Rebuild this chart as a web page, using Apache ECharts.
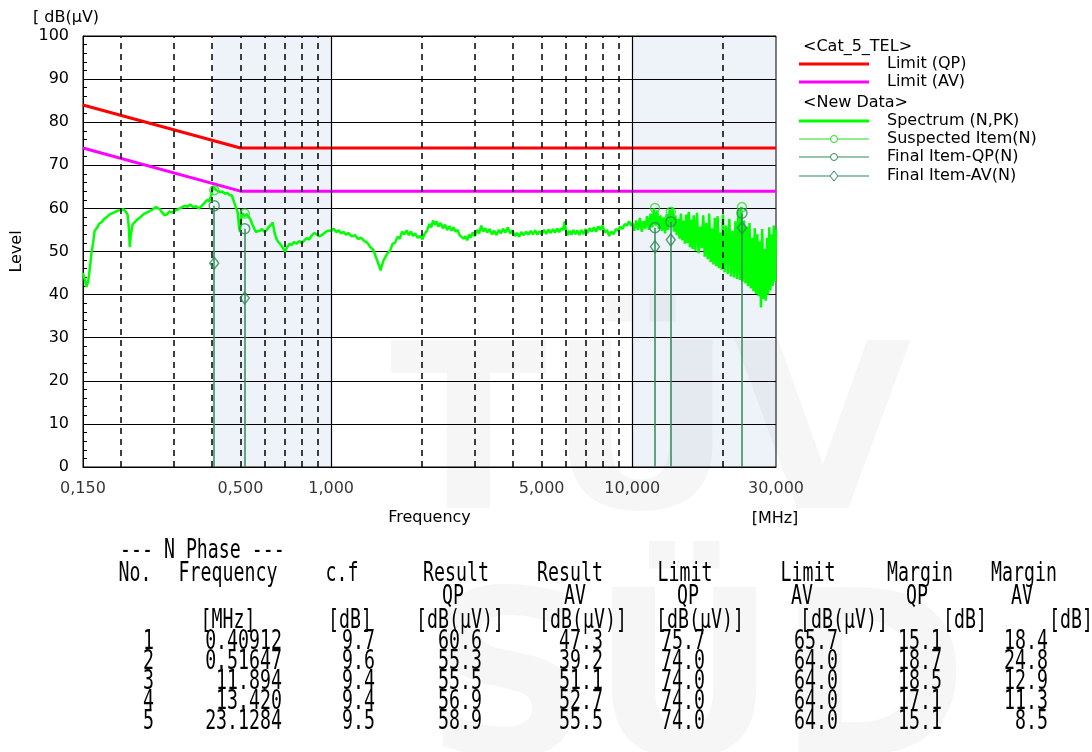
<!DOCTYPE html>
<html><head><meta charset="utf-8">
<script src="https://cdn.jsdelivr.net/npm/echarts@6/dist/echarts.min.js"></script>
<style>html,body{margin:0;padding:0;background:#fff}#c{width:1092px;height:752px}</style>
</head><body><div id="c"></div>
<script>
// ---------- data ----------
const xTickVals = [0.15, 0.5, 1, 5, 10, 30];
const xTickLabels = ['0,150', '0,500', '1,000', '5,000', '10,000', '30,000'];
const gridSolidX = [1, 10];
const gridDashedX = [0.2, 0.3, 0.4, 0.5, 0.6, 0.7, 0.8, 0.9, 2, 3, 4, 5, 6, 7, 8, 9, 20];

const limitFreq = [0.15, 0.5, 30];
const limitQPLevel = [84, 74, 74];
const limitAVLevel = [74, 64, 64];

// Spectrum (N,PK): [MHz, dB(uV)]
const spectrumLow = [
 [0.150,45.0],[0.152,43.5],[0.154,41.8],[0.156,43.0],[0.158,46.0],[0.160,49.5],[0.162,52.0],[0.164,54.8],[0.167,55.5],[0.170,56.5],
 [0.173,56.8],[0.176,57.5],[0.180,58.0],[0.184,58.6],[0.188,58.9],[0.192,59.2],[0.196,59.5],[0.200,59.6],[0.204,59.8],[0.208,59.3],
 [0.211,58.5],[0.213,55.5],[0.2145,51.0],[0.216,53.5],[0.219,56.2],[0.223,56.8],[0.228,57.5],[0.233,58.0],[0.238,58.6],[0.244,59.0],
 [0.250,59.4],[0.256,59.8],[0.262,60.3],[0.266,60.6],[0.270,59.8],[0.275,59.0],[0.280,58.4],[0.285,58.6],[0.290,59.3],[0.296,59.0],
 [0.302,59.4],[0.310,59.8],[0.318,60.2],[0.326,60.6],[0.334,60.4],[0.340,60.9],[0.348,60.3],[0.356,60.5],[0.364,60.0],[0.372,60.6],
 [0.380,61.3],[0.388,62.0],[0.394,61.6],[0.400,63.2],[0.404,64.5],[0.408,65.0],[0.414,64.3],[0.420,64.4],[0.428,63.8],[0.436,63.9],
 [0.444,63.4],[0.452,63.6],[0.460,63.1],[0.468,63.0],[0.476,61.5],[0.484,60.0],[0.490,59.0],[0.494,56.0],[0.498,54.5],[0.502,57.5],
 [0.506,58.9],[0.512,58.6],[0.518,58.2],[0.524,58.7],[0.530,58.4],[0.538,57.6],[0.546,56.5],[0.554,55.5],[0.562,54.6],[0.570,54.2],
 [0.580,54.8],[0.590,55.2],[0.600,54.6],[0.612,55.0],[0.622,55.8],[0.632,56.2],[0.640,56.7],[0.648,54.5],[0.658,53.0],[0.668,52.2],
 [0.680,51.6],[0.692,50.8],[0.703,50.0],[0.715,51.0],[0.728,51.8],[0.740,51.5],[0.752,52.2],[0.768,51.8],[0.784,52.4],[0.800,52.0],
 [0.815,52.6],[0.830,53.1],[0.845,52.8],[0.860,53.6],[0.878,54.3],[0.895,54.0],[0.915,53.5],[0.935,53.9],[0.955,54.4],[0.975,54.8]
];
const spectrumMid = [
 [1.00,54.8],[1.02,55.3],[1.04,54.5],[1.06,54.9],[1.08,54.2],[1.10,54.6],[1.12,53.9],[1.14,54.3],[1.17,53.5],[1.20,53.8],
 [1.23,52.9],[1.26,53.2],[1.29,52.4],[1.32,52.0],[1.35,51.0],[1.38,50.4],[1.41,48.6],[1.43,47.5],[1.45,46.2],[1.46,45.6],
 [1.47,46.4],[1.49,47.8],[1.51,48.0],[1.54,49.6],[1.57,50.2],[1.60,51.8],[1.63,52.0],[1.66,53.4],[1.69,53.0],[1.72,54.6],
 [1.75,54.0],[1.78,54.9],[1.81,53.8],[1.84,54.6],[1.87,53.6],[1.90,54.2],[1.94,53.2],[1.98,53.6],[2.01,52.8],[2.04,54.0],
 [2.08,54.8],[2.12,56.4],[2.15,55.6],[2.18,57.2],[2.21,56.2],[2.24,57.0],[2.27,55.8],[2.31,56.6],[2.35,55.4],[2.39,56.2],
 [2.43,55.0],[2.47,55.9],[2.51,54.8],[2.55,55.6],[2.59,54.6],[2.63,55.0],[2.67,53.8],[2.71,54.2],[2.75,53.0],[2.79,53.5],
 [2.83,52.6],[2.87,53.9],[2.91,53.2],[2.95,54.4],[3.00,53.6],[3.05,55.0],[3.10,54.2],[3.15,56.0],[3.20,54.6],[3.25,55.4],
 [3.30,54.4],[3.36,55.2],[3.42,54.0],[3.48,54.8],[3.54,53.8],[3.60,55.0],[3.66,54.2],[3.72,55.3],[3.79,54.4],[3.86,55.6],
 [3.93,54.2],[4.00,54.9],[4.07,53.6],[4.14,54.3],[4.21,53.4],[4.28,54.5],[4.36,53.8],[4.44,54.6],[4.52,53.9],[4.60,54.8],
 [4.68,54.0],[4.76,54.9],[4.84,53.9],[4.92,54.7],[5.00,54.0],[5.09,55.0],[5.18,54.1],[5.27,55.1],[5.36,54.3],[5.45,55.2],
 [5.54,54.4],[5.63,55.3],[5.72,54.5],[5.81,55.4],[5.90,55.0],[5.96,57.0],[6.02,55.0],[6.10,53.8],[6.19,54.8],[6.28,53.9],
 [6.37,55.0],[6.47,54.0],[6.57,54.9],[6.67,53.8],[6.77,55.0],[6.88,54.0],[6.99,55.2],[7.10,54.3],[7.22,55.4],[7.34,54.6],
 [7.46,55.6],[7.58,54.6],[7.71,55.8],[7.84,55.0],[7.97,56.0],[8.10,54.4],[8.24,55.0],[8.38,53.6],[8.52,54.6],[8.67,54.0],
 [8.82,55.2],[8.97,54.8],[9.12,55.8],[9.28,55.2],[9.44,56.4],[9.60,56.0],[9.76,57.0],[9.92,56.0]
];
const spectrumHigh = [
 [10.00,56.6],[10.15,54.8],[10.30,57.2],[10.45,55.0],[10.60,57.8],[10.75,54.6],[10.90,57.0],[11.05,55.3],[11.20,58.2],[11.35,55.0],
 [11.50,58.8],[11.65,55.6],[11.80,60.0],[11.95,56.0],[12.10,59.5],[12.25,55.2],[12.40,58.4],[12.55,54.8],[12.70,57.9],[12.85,54.2],
 [13.00,58.6],[13.15,55.0],[13.30,59.8],[13.45,56.0],[13.60,60.2],[13.75,54.6],[13.90,58.4],[14.05,53.8],[14.20,57.6],[14.35,53.0],
 [14.50,58.8],[14.65,52.6],[14.80,57.2],[14.95,51.8],[15.10,58.6],[15.25,52.0],[15.40,59.2],[15.55,51.0],[15.70,57.4],[15.85,50.6],
 [16.00,58.4],[16.20,50.2],[16.40,59.0],[16.60,49.6],[16.80,55.8],[17.00,50.8],[17.20,58.4],[17.40,48.8],[17.60,56.6],[17.80,48.2],
 [18.00,58.8],[18.20,47.6],[18.40,55.4],[18.60,47.0],[18.80,57.8],[19.00,46.6],[19.20,58.2],[19.40,46.2],[19.60,54.4],[19.80,45.8],
 [20.00,58.6],[20.25,45.2],[20.50,56.0],[20.75,44.8],[21.00,57.6],[21.25,44.2],[21.50,54.8],[21.75,44.0],[22.00,57.0],[22.25,43.6],
 [22.50,59.6],[22.75,43.4],[23.00,60.4],[23.25,43.0],[23.50,57.2],[23.75,42.6],[24.00,55.8],[24.25,42.0],[24.50,56.6],[24.75,41.4],
 [25.00,53.2],[25.25,40.8],[25.50,55.4],[25.75,40.2],[26.00,54.0],[26.25,39.6],[26.50,52.4],[26.75,37.0],[27.00,55.2],[27.25,39.0],
 [27.50,50.6],[27.75,38.6],[28.00,53.2],[28.25,40.0],[28.50,55.6],[28.75,41.0],[29.00,54.0],[29.25,42.0],[29.50,56.0],[29.75,43.0],
 [30.00,55.0]
];

// measured items (table)
const itemNo = ['1', '2', '3', '4', '5'];
const itemFreqText = ['0.40912', '0.51647', '11.894', '13.420', '23.1284'];
const itemCf = [9.7, 9.6, 9.4, 9.4, 9.5];
const itemQP = [60.6, 55.3, 55.5, 56.9, 58.9];
const itemAV = [47.3, 39.2, 51.1, 52.7, 55.5];
const itemLimQP = [75.7, 74.0, 74.0, 74.0, 74.0];
const itemLimAV = [65.7, 64.0, 64.0, 64.0, 64.0];
const itemMarQP = [15.1, 18.7, 18.5, 17.1, 15.1];
const itemMarAV = [18.4, 24.8, 12.9, 11.3, 8.5];
const suspectedLevel = [64.2, 58.8, 60.1, 59.2, 60.3];

// ---------- build ----------
const itemFreq = itemFreqText.map(Number);
const spectrum = spectrumLow.concat(spectrumMid, spectrumHigh);
const GREEN_D = '#2e8b57';
const F = '"DejaVu Sans", sans-serif';
const chart = echarts.init(document.getElementById('c'), null, {renderer: 'canvas'});

const TF = '24px "DejaVu Sans Mono", monospace';
function tt(x, y, s, align) {
  return {type: 'text', x: x, y: y, scaleX: 0.76, scaleY: 1.08, silent: true, z: 10,
    style: {text: s, font: TF, fill: '#000', textAlign: align, align: align, textVerticalAlign: 'middle', verticalAlign: 'middle'}};
}
function lt(x, y, s) {
  return {type: 'text', x: x, y: y, silent: true, z: 10,
    style: {text: s, font: '16px ' + F, fill: '#000', textAlign: 'left', align: 'left', textVerticalAlign: 'middle', verticalAlign: 'middle'}};
}
function ln(x1, y1, x2, y2, color, w) {
  return {type: 'line', silent: true, z: 10, shape: {x1: x1, y1: y1, x2: x2, y2: y2}, style: {stroke: color, lineWidth: w}};
}

const graphics = [];
// watermark / background tint
graphics.push({type: 'rect', z: -10, silent: true, shape: {x: 212, y: 36, width: 120, height: 431}, style: {fill: '#eef2f9'}});
graphics.push({type: 'rect', z: -10, silent: true, shape: {x: 632, y: 36, width: 144, height: 431}, style: {fill: '#eef2f9'}});
graphics.push({type: 'text', z: -9, silent: true, x: 390, y: 563, style: {text: 'TÜV', font: 'bold 230px "DejaVu Sans"', fill: 'rgba(0,0,0,0.035)', textAlign: 'left', align: 'left', textVerticalAlign: 'bottom', verticalAlign: 'bottom'}});
graphics.push({type: 'text', z: -9, silent: true, x: 425, y: 810, style: {text: 'SÜD', font: 'bold 230px "DejaVu Sans"', fill: 'rgba(0,0,0,0.035)', textAlign: 'left', align: 'left', textVerticalAlign: 'bottom', verticalAlign: 'bottom'}});

// axis unit texts
graphics.push(lt(33, 18, '[ dB(μV)'));
graphics.push({type: 'text', x: 775, y: 519, silent: true, z: 10, style: {text: '[MHz]', font: '16px ' + F, fill: '#000', textAlign: 'center', align: 'center', textVerticalAlign: 'middle', verticalAlign: 'middle'}});

// legend
const LX1 = 799, LX2 = 869, LT = 887, LM = 834;
graphics.push(lt(803, 47, '<Cat_5_TEL>'));
graphics.push(ln(LX1, 64, LX2, 64, '#ff0000', 3)); graphics.push(lt(LT, 64, 'Limit (QP)'));
graphics.push(ln(LX1, 82, LX2, 82, '#ff00ff', 3)); graphics.push(lt(LT, 82, 'Limit (AV)'));
graphics.push(lt(803, 103, '<New Data>'));
graphics.push(ln(LX1, 121, LX2, 121, '#00ff00', 3)); graphics.push(lt(LT, 121, 'Spectrum (N,PK)'));
graphics.push(ln(LX1, 139, LX2, 139, '#22dd22', 1)); graphics.push({type: 'circle', z: 11, silent: true, shape: {cx: LM, cy: 139, r: 3.5}, style: {fill: '#fff', stroke: '#22dd22', lineWidth: 1}}); graphics.push(lt(LT, 139, 'Suspected Item(N)'));
graphics.push(ln(LX1, 157, LX2, 157, GREEN_D, 1)); graphics.push({type: 'circle', z: 11, silent: true, shape: {cx: LM, cy: 157, r: 3.5}, style: {fill: '#fff', stroke: GREEN_D, lineWidth: 1}}); graphics.push(lt(LT, 157, 'Final Item-QP(N)'));
graphics.push(ln(LX1, 176, LX2, 176, GREEN_D, 1)); graphics.push({type: 'polygon', z: 11, silent: true, shape: {points: [[LM, 171], [LM + 4, 176], [LM, 181], [LM - 4, 176]]}, style: {fill: '#fff', stroke: GREEN_D, lineWidth: 1}}); graphics.push(lt(LT, 176, 'Final Item-AV(N)'));

// table
graphics.push(tt(120, 551, '--- N Phase ---', 'left'));
const hdrY = 574, hdr2Y = 597, unitY = 621;
[['No.', 135], ['Frequency', 228], ['c.f', 342], ['Result', 456], ['Result', 570], ['Limit', 685], ['Limit', 808], ['Margin', 920], ['Margin', 1024]]
  .forEach(h => graphics.push(tt(h[1], hdrY, h[0], 'center')));
[['QP', 453], ['AV', 575], ['QP', 688], ['AV', 802], ['QP', 917], ['AV', 1022]]
  .forEach(h => graphics.push(tt(h[1], hdr2Y, h[0], 'center')));
[['[MHz]', 228], ['[dB]', 350], ['[dB(μV)]', 460], ['[dB(μV)]', 583], ['[dB(μV)]', 700], ['[dB(μV)]', 844], ['[dB]', 965], ['[dB]', 1071]]
  .forEach(h => graphics.push(tt(h[1], unitY, h[0], 'center')));
const colRight = [154, 282, 375, 482, 603, 705, 838, 942, 1048];
itemNo.forEach((n, i) => {
  const y = 642 + i * 20;
  const cells = [n, itemFreqText[i], itemCf[i].toFixed(1), itemQP[i].toFixed(1), itemAV[i].toFixed(1),
    itemLimQP[i].toFixed(1), itemLimAV[i].toFixed(1), itemMarQP[i].toFixed(1), itemMarAV[i].toFixed(1)];
  cells.forEach((c, k) => graphics.push(tt(colRight[k], y, c, 'right')));
});

const gridLines = gridDashedX.map(v => ({xAxis: v, lineStyle: {type: [6, 5], width: 1.5, color: '#000'}}))
  .concat(gridSolidX.map(v => ({xAxis: v, lineStyle: {type: 'solid', width: 1.2, color: '#000'}})));

const option = {
  animation: false,
  backgroundColor: '#fff',
  textStyle: {fontFamily: F},
  grid: {left: 83, right: 316, top: 36, bottom: 285, show: true, borderColor: '#000', borderWidth: 1, backgroundColor: 'transparent'},
  xAxis: {
    type: 'log', logBase: 10, min: 0.15, max: 30,
    name: 'Frequency', nameLocation: 'middle', nameGap: 43,
    nameTextStyle: {color: '#000', fontSize: 16, fontFamily: F},
    axisLine: {show: true, lineStyle: {color: '#000', width: 1}},
    axisTick: {show: false}, axisLabel: {show: false}, splitLine: {show: false}, minorTick: {show: false}
  },
  yAxis: {
    type: 'value', min: 0, max: 100, interval: 10,
    name: 'Level', nameLocation: 'middle', nameGap: 58, nameRotate: 90,
    nameTextStyle: {color: '#000', fontSize: 16, fontFamily: F},
    axisLine: {show: true, lineStyle: {color: '#000', width: 1}},
    axisTick: {show: true, inside: true, length: 5, lineStyle: {color: '#000'}},
    minorTick: {show: true, splitNumber: 5, length: 4, lineStyle: {color: '#000', width: 1}},
    axisLabel: {color: '#000', fontSize: 16, fontFamily: F, margin: 14},
    splitLine: {show: true, lineStyle: {color: '#000', width: 1.2}}
  },
  graphic: graphics,
  series: [
    {
      name: 'ticks', type: 'scatter', z: 1, silent: true,
      data: xTickVals.map(v => [v, 0]), symbolSize: 1, itemStyle: {color: 'transparent'},
      label: {show: true, position: 'bottom', distance: 13, color: '#000', fontSize: 16, fontFamily: F,
        formatter: p => xTickLabels[p.dataIndex]},
      markLine: {silent: true, symbol: ['none', 'none'], label: {show: false}, animation: false, data: gridLines}
    },
    {
      name: 'Spectrum (N,PK)', type: 'line', z: 3, showSymbol: false, symbol: 'none', silent: true,
      data: spectrum,
      lineStyle: {color: '#00ff00', width: 2.5}
    },
    {
      name: 'Limit (QP)', type: 'line', z: 4, showSymbol: false, symbol: 'none', silent: true,
      data: limitFreq.map((f, i) => [f, limitQPLevel[i]]),
      lineStyle: {color: '#ff0000', width: 3}
    },
    {
      name: 'Limit (AV)', type: 'line', z: 4, showSymbol: false, symbol: 'none', silent: true,
      data: limitFreq.map((f, i) => [f, limitAVLevel[i]]),
      lineStyle: {color: '#ff00ff', width: 3}
    },
    {
      name: 'Suspected Item(N)', type: 'scatter', z: 5, silent: true,
      data: itemFreq.map((f, i) => [f, suspectedLevel[i]]),
      symbol: 'circle', symbolSize: 9,
      itemStyle: {color: 'transparent', borderColor: '#33dd33', borderWidth: 1.5}
    },
    {
      name: 'Final Item-QP(N)', type: 'scatter', z: 6, silent: true,
      data: itemFreq.map((f, i) => [f, itemQP[i]]),
      symbol: 'circle', symbolSize: 10,
      itemStyle: {color: 'transparent', borderColor: GREEN_D, borderWidth: 1.5},
      markLine: {silent: true, symbol: ['none', 'none'], label: {show: false}, animation: false,
        lineStyle: {color: GREEN_D, width: 1.5, type: 'solid'},
        data: itemFreq.map((f, i) => [{coord: [f, 0]}, {coord: [f, itemQP[i]]}])}
    },
    {
      name: 'Final Item-AV(N)', type: 'scatter', z: 6, silent: true,
      data: itemFreq.map((f, i) => [f, itemAV[i]]),
      symbol: 'diamond', symbolSize: [9, 12],
      itemStyle: {color: 'transparent', borderColor: GREEN_D, borderWidth: 1.5}
    }
  ]
};
chart.setOption(option);
</script></body></html>
